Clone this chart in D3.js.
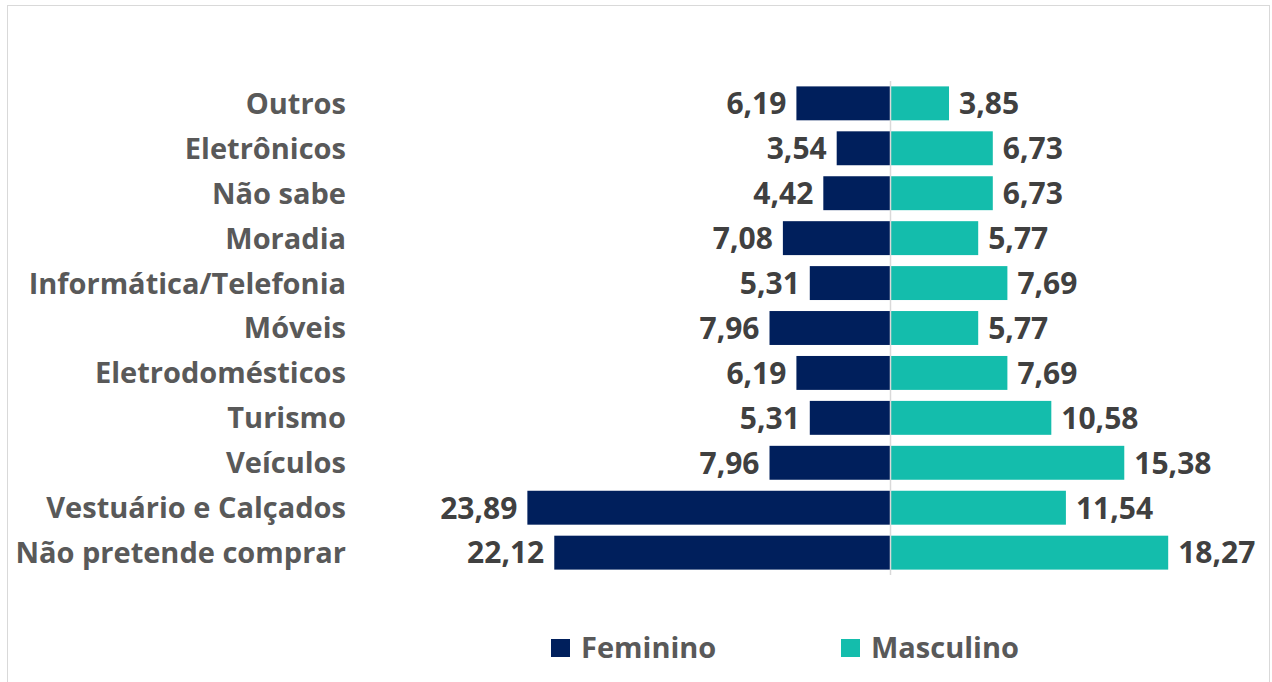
<!DOCTYPE html>
<html>
<head>
<meta charset="utf-8">
<script src="https://cdn.jsdelivr.net/npm/d3@7"></script>
<style>
  body { margin: 0; background: #fff; }
  svg { display: block; }
  .cat-label { font-family: "Open Sans", sans-serif; font-weight: 700; fill: #595959; }
  .val-label { font-family: "Open Sans", sans-serif; font-weight: 700; fill: #404040; }
  .legend-label { font-family: "Open Sans", sans-serif; font-weight: 700; fill: #595959; }
</style>
</head>
<body>
<svg id="chart"></svg>
<script>
// categories top -> bottom
const categories = [
    'Outros', 'Eletrônicos', 'Não sabe', 'Moradia', 'Informática/Telefonia',
    'Móveis', 'Eletrodomésticos', 'Turismo', 'Veículos',
    'Vestuário e Calçados', 'Não pretende comprar'
];
const feminino = [6.19, 3.54, 4.42, 7.08, 5.31, 7.96, 6.19, 5.31, 7.96, 23.89, 22.12];
const masculino = [3.85, 6.73, 6.73, 5.77, 7.69, 5.77, 7.69, 10.58, 15.38, 11.54, 18.27];
const seriesNames = ['Feminino', 'Masculino'];
const colors = ['#001F5C', '#14BDAC'];

const width = 1272, height = 682;
const centerX = 890.5;

const svg = d3.select('#chart')
    .attr('width', width)
    .attr('height', height);

// outer frame
svg.append('rect')
    .attr('x', 7.5).attr('y', 5.5)
    .attr('width', 1262).attr('height', 690)
    .attr('fill', 'none')
    .attr('stroke', '#d9d9d9');

const data = categories.map((c, i) => ({ cat: c, f: feminino[i], m: masculino[i] }));

const yScale = d3.scaleBand()
    .domain(categories)
    .range([81, 575])
    .paddingInner(0.245)
    .paddingOuter(0.12);

const xScale = d3.scaleLinear()
    .domain([0, 1])
    .range([0, 15.2]);

const chart = svg.append('g');

// feminino bars (to the left)
chart.selectAll('.bar-f')
    .data(data)
    .join('rect')
        .attr('class', 'bar-f')
        .attr('x', d => centerX - xScale(d.f))
        .attr('y', d => yScale(d.cat))
        .attr('width', d => xScale(d.f))
        .attr('height', yScale.bandwidth())
        .attr('fill', colors[0]);

// masculino bars (to the right)
chart.selectAll('.bar-m')
    .data(data)
    .join('rect')
        .attr('class', 'bar-m')
        .attr('x', centerX)
        .attr('y', d => yScale(d.cat))
        .attr('width', d => xScale(d.m))
        .attr('height', yScale.bandwidth())
        .attr('fill', colors[1]);

// center axis line
chart.append('line')
    .attr('x1', centerX).attr('x2', centerX)
    .attr('y1', yScale.range()[0]).attr('y2', yScale.range()[1])
    .attr('stroke', '#d9d9d9')
    .attr('stroke-width', 1.5);

const fmt = v => d3.format('.2f')(v).replace('.', ',');

// value labels
chart.selectAll('.val-f')
    .data(data)
    .join('text')
        .attr('class', 'val-label')
        .attr('x', d => centerX - xScale(d.f) - 10)
        .attr('y', d => yScale(d.cat) + yScale.bandwidth() / 2)
        .attr('dy', '0.36em')
        .attr('text-anchor', 'end')
        .style('font-size', '30px')
        .text(d => fmt(d.f));

chart.selectAll('.val-m')
    .data(data)
    .join('text')
        .attr('class', 'val-label')
        .attr('x', d => centerX + xScale(d.m) + 10)
        .attr('y', d => yScale(d.cat) + yScale.bandwidth() / 2)
        .attr('dy', '0.36em')
        .attr('text-anchor', 'start')
        .style('font-size', '30px')
        .text(d => fmt(d.m));

// category labels
chart.selectAll('.cat-label')
    .data(data)
    .join('text')
        .attr('class', 'cat-label')
        .attr('x', 346)
        .attr('y', d => yScale(d.cat) + yScale.bandwidth() / 2)
        .attr('dy', '0.36em')
        .attr('text-anchor', 'end')
        .style('font-size', '29px')
        .text(d => d.cat);

// legend
const legendX = [551, 841];
const legend = svg.selectAll('.legend')
    .data(seriesNames)
    .join('g')
        .attr('class', 'legend')
        .attr('transform', (d, i) => `translate(${legendX[i]}, 648)`);

legend.append('rect')
    .attr('x', 0).attr('y', -9)
    .attr('width', 19).attr('height', 18)
    .attr('fill', (d, i) => colors[i]);

legend.append('text')
    .attr('class', 'legend-label')
    .attr('x', 30)
    .attr('dy', '0.36em')
    .style('font-size', '29px')
    .text(d => d);
</script>
</body>
</html>
